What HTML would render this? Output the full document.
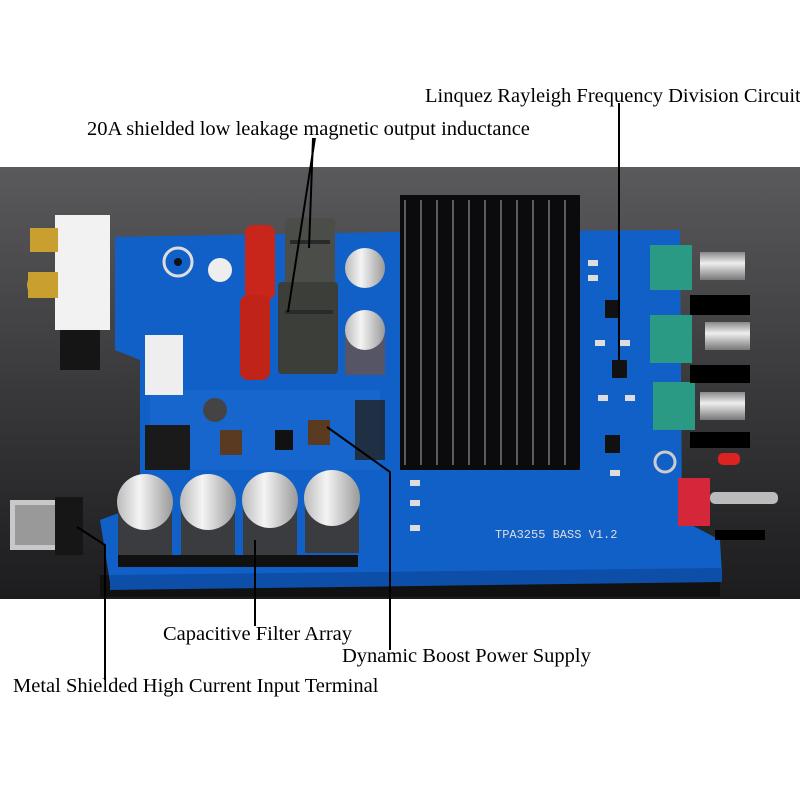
<!DOCTYPE html>
<html><head><meta charset="utf-8"><style>
html,body{margin:0;padding:0;background:#fff;width:800px;height:800px;overflow:hidden}
svg{display:block}
text{font-family:"Liberation Serif",serif;font-size:20.5px;fill:#000}
</style></head><body>
<svg width="800" height="800" viewBox="0 0 800 800" xmlns="http://www.w3.org/2000/svg">
<defs>
<linearGradient id="bg" x1="0" y1="0" x2="0" y2="1">
<stop offset="0" stop-color="#5a5a5c"/><stop offset="0.5" stop-color="#3a3a3c"/><stop offset="1" stop-color="#1c1c1e"/></linearGradient>
<linearGradient id="cap" x1="0" y1="0" x2="1" y2="0">
<stop offset="0" stop-color="#bbb"/><stop offset="0.4" stop-color="#f4f4f4"/><stop offset="1" stop-color="#999"/></linearGradient>
<linearGradient id="knob" x1="0" y1="0" x2="0" y2="1">
<stop offset="0" stop-color="#888"/><stop offset="0.4" stop-color="#eee"/><stop offset="1" stop-color="#777"/></linearGradient>
</defs>
<rect x="0" y="167" width="800" height="432" fill="url(#bg)"/>
<rect x="100" y="575" width="620" height="22" fill="#111"/>
<polygon points="115,237 395,232 680,230 682,520 720,540 722,575 110,582 100,520 140,505 140,360 115,350" fill="#1160c8"/>
<polygon points="110,575 722,568 722,582 110,590" fill="#0d4ea8"/>
<rect x="150" y="390" width="230" height="80" fill="#1a6ad2" opacity="0.6"/>
<rect x="55" y="215" width="55" height="115" fill="#f2f2f2"/>
<rect x="60" y="330" width="40" height="40" fill="#151515"/>
<circle cx="42" cy="240" r="12" fill="#c9a030"/><rect x="30" y="228" width="28" height="24" fill="#c9a030"/>
<circle cx="40" cy="285" r="13" fill="#c9a030"/><rect x="28" y="272" width="30" height="26" fill="#c9a030"/>
<rect x="145" y="335" width="38" height="60" fill="#eee"/>
<rect x="245" y="225" width="30" height="75" rx="8" fill="#c8261a"/>
<rect x="240" y="295" width="30" height="85" rx="8" fill="#c02418"/>
<rect x="285" y="218" width="50" height="72" rx="4" fill="#4a4d48"/>
<rect x="278" y="282" width="60" height="92" rx="4" fill="#3c3e3a"/>
<rect x="290" y="240" width="40" height="4" fill="#2a2a2a"/><rect x="285" y="310" width="48" height="4" fill="#2a2a2a"/>
<circle cx="365" cy="268" r="20" fill="url(#cap)"/>
<rect x="345" y="325" width="40" height="50" fill="#556"/>
<circle cx="365" cy="330" r="20" fill="url(#cap)"/>
<circle cx="220" cy="270" r="12" fill="#eee"/>
<circle cx="178" cy="262" r="14" fill="#1160c8" stroke="#ddd" stroke-width="3"/><circle cx="178" cy="262" r="4" fill="#111"/>
<rect x="145" y="425" width="45" height="45" fill="#1a1a1a"/>
<circle cx="215" cy="410" r="12" fill="#444"/>
<rect x="220" y="430" width="22" height="25" fill="#5a3a20"/>
<rect x="308" y="420" width="22" height="25" fill="#5a3a20"/>
<rect x="275" y="430" width="18" height="20" fill="#111"/>
<rect x="355" y="400" width="30" height="60" fill="#222" opacity="0.8"/>
<rect x="400" y="195" width="180" height="275" fill="#0b0b0d"/>
<g stroke="#5a5a60" stroke-width="2">
<line x1="405" y1="200" x2="405" y2="465"/><line x1="421" y1="200" x2="421" y2="465"/><line x1="437" y1="200" x2="437" y2="465"/><line x1="453" y1="200" x2="453" y2="465"/><line x1="469" y1="200" x2="469" y2="465"/><line x1="485" y1="200" x2="485" y2="465"/><line x1="501" y1="200" x2="501" y2="465"/><line x1="517" y1="200" x2="517" y2="465"/><line x1="533" y1="200" x2="533" y2="465"/><line x1="549" y1="200" x2="549" y2="465"/><line x1="565" y1="200" x2="565" y2="465"/></g>
<rect x="605" y="300" width="15" height="18" fill="#111"/><rect x="612" y="360" width="15" height="18" fill="#111"/><rect x="605" y="435" width="15" height="18" fill="#111"/>
<g fill="#ddd"><rect x="588" y="260" width="10" height="6"/><rect x="588" y="275" width="10" height="6"/><rect x="595" y="340" width="10" height="6"/><rect x="620" y="340" width="10" height="6"/><rect x="598" y="395" width="10" height="6"/><rect x="625" y="395" width="10" height="6"/><rect x="610" y="470" width="10" height="6"/><rect x="410" y="480" width="10" height="6"/><rect x="410" y="500" width="10" height="6"/><rect x="410" y="525" width="10" height="6"/></g>
<rect x="650" y="245" width="42" height="45" fill="#2a9a84"/>
<rect x="650" y="315" width="42" height="48" fill="#2a9a84"/>
<rect x="653" y="382" width="42" height="48" fill="#2a9a84"/>
<rect x="690" y="295" width="60" height="20" fill="#000"/><rect x="690" y="365" width="60" height="18" fill="#000"/><rect x="690" y="432" width="60" height="16" fill="#000"/>
<rect x="700" y="252" width="45" height="28" fill="url(#knob)"/>
<rect x="705" y="322" width="45" height="28" fill="url(#knob)"/>
<rect x="700" y="392" width="45" height="28" fill="url(#knob)"/>
<rect x="678" y="478" width="32" height="48" fill="#d4283a"/>
<rect x="710" y="492" width="68" height="12" rx="5" fill="#bbb"/>
<rect x="718" y="453" width="22" height="12" rx="5" fill="#d22"/>
<rect x="715" y="530" width="50" height="10" fill="#000"/>
<circle cx="665" cy="462" r="10" fill="#1160c8" stroke="#ccc" stroke-width="3"/>
<text x="495" y="538" style="font-family:'Liberation Mono',monospace;font-size:12px;fill:#ddd">TPA3255 BASS V1.2</text>
<rect x="118" y="505" width="54" height="50" fill="#3a3c40"/><ellipse cx="145" cy="502" rx="28" ry="28" fill="url(#cap)"/>
<rect x="181" y="505" width="54" height="50" fill="#3a3c40"/><ellipse cx="208" cy="502" rx="28" ry="28" fill="url(#cap)"/>
<rect x="243" y="505" width="54" height="50" fill="#3a3c40"/><ellipse cx="270" cy="500" rx="28" ry="28" fill="url(#cap)"/>
<rect x="305" y="505" width="54" height="48" fill="#3a3c40"/><ellipse cx="332" cy="498" rx="28" ry="28" fill="url(#cap)"/>
<rect x="118" y="555" width="240" height="12" fill="#111"/>
<rect x="10" y="500" width="50" height="50" fill="#c8c8c8"/><rect x="15" y="505" width="40" height="40" fill="#999"/>
<rect x="55" y="497" width="28" height="58" fill="#161616"/>
<g stroke="#000" stroke-width="2" fill="none">
<polyline points="313,138 309,248"/>
<polyline points="315,138 288,312"/>
<polyline points="619,103 619,360"/>
<polyline points="327,427 390,472 390,650"/>
<polyline points="255,540 255,626"/>
<polyline points="77,527 105,545 105,680"/>
</g>
<text x="87" y="135">20A shielded low leakage magnetic output inductance</text>
<text x="425" y="102">Linquez Rayleigh Frequency Division Circuit</text>
<text x="163" y="640">Capacitive Filter Array</text>
<text x="342" y="662">Dynamic Boost Power Supply</text>
<text x="13" y="692">Metal Shielded High Current Input Terminal</text>
</svg>
</body></html>
